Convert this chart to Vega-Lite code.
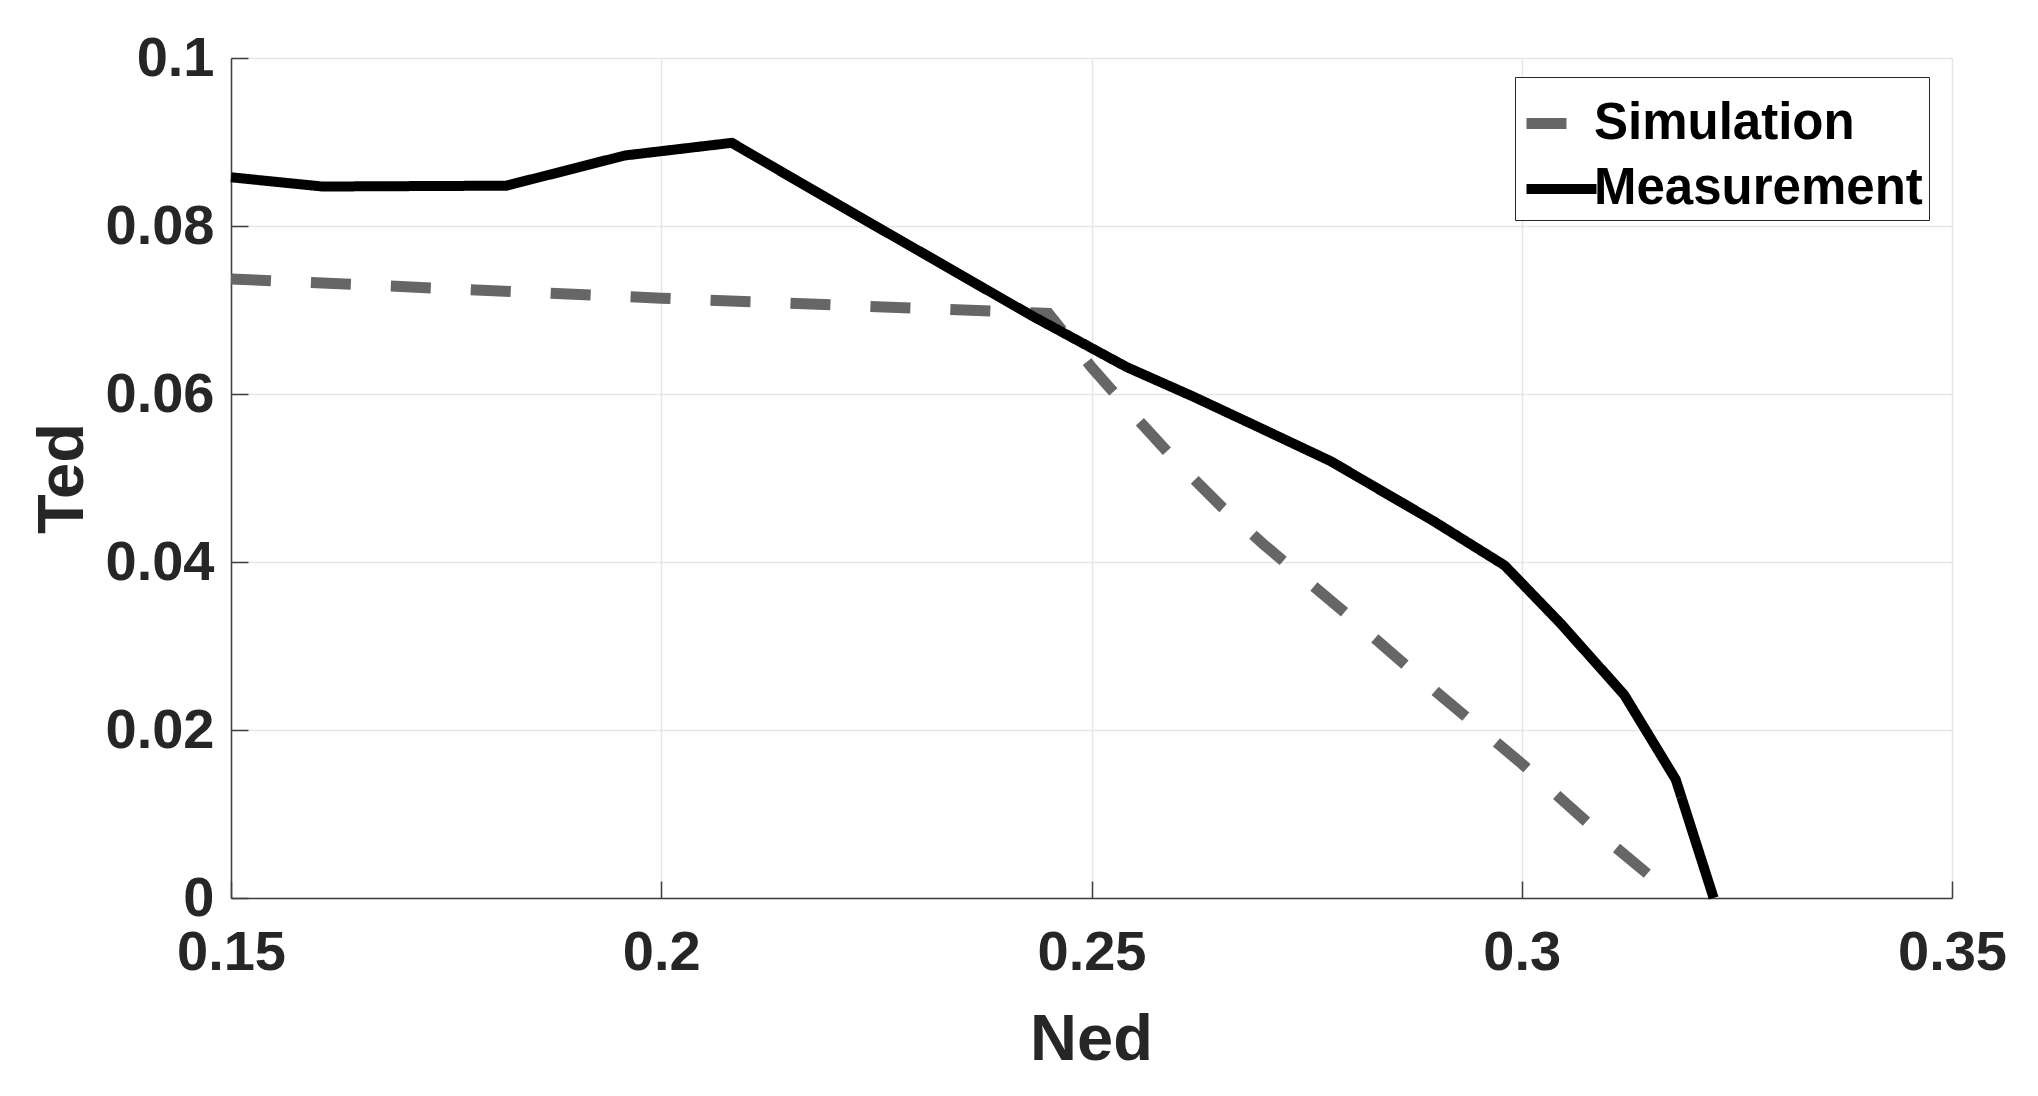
{
  "$schema": "https://vega.github.io/schema/vega-lite/v6.json",
  "width": 1721,
  "height": 840,
  "autosize": {"type": "none"},
  "padding": {"left": 231, "top": 58, "right": 86, "bottom": 198},
  "background": "white",
  "config": {
    "view": {"stroke": null},
    "font": "Liberation Sans",
    "axis": {
      "labelFont": "Liberation Sans",
      "labelFontSize": 56,
      "labelFontWeight": "bold",
      "labelColor": "#262626",
      "labelFlush": false,
      "titleFont": "Liberation Sans",
      "titleFontSize": 65,
      "titleFontWeight": "bold",
      "titleColor": "#262626",
      "domainColor": "#404040",
      "domainWidth": 1.5,
      "tickColor": "#404040",
      "tickWidth": 1.5,
      "tickSize": -17,
      "gridColor": "#e6e6e6",
      "gridWidth": 1.5
    }
  },
  "data": {
    "values": [
      {"series": "Simulation", "Ned": 0.15, "Ted": 0.0737},
      {"series": "Simulation", "Ned": 0.2, "Ted": 0.0714},
      {"series": "Simulation", "Ned": 0.245, "Ted": 0.0696},
      {"series": "Simulation", "Ned": 0.25, "Ted": 0.0632},
      {"series": "Simulation", "Ned": 0.255, "Ted": 0.0574},
      {"series": "Simulation", "Ned": 0.26, "Ted": 0.0518},
      {"series": "Simulation", "Ned": 0.265, "Ted": 0.0467},
      {"series": "Simulation", "Ned": 0.27, "Ted": 0.0421},
      {"series": "Simulation", "Ned": 0.28, "Ted": 0.0335},
      {"series": "Simulation", "Ned": 0.29, "Ted": 0.0246},
      {"series": "Simulation", "Ned": 0.3, "Ted": 0.016},
      {"series": "Simulation", "Ned": 0.31, "Ted": 0.0068},
      {"series": "Simulation", "Ned": 0.318, "Ted": 0.0},
      {"series": "Measurement", "Ned": 0.15, "Ted": 0.0858},
      {"series": "Measurement", "Ned": 0.1606, "Ted": 0.0847},
      {"series": "Measurement", "Ned": 0.182, "Ted": 0.0848},
      {"series": "Measurement", "Ned": 0.1958, "Ted": 0.0884},
      {"series": "Measurement", "Ned": 0.2082, "Ted": 0.0899},
      {"series": "Measurement", "Ned": 0.2198, "Ted": 0.083},
      {"series": "Measurement", "Ned": 0.2431, "Ted": 0.0693},
      {"series": "Measurement", "Ned": 0.2541, "Ted": 0.0632},
      {"series": "Measurement", "Ned": 0.2618, "Ted": 0.0597},
      {"series": "Measurement", "Ned": 0.2689, "Ted": 0.0563},
      {"series": "Measurement", "Ned": 0.2778, "Ted": 0.052},
      {"series": "Measurement", "Ned": 0.2897, "Ted": 0.0449},
      {"series": "Measurement", "Ned": 0.298, "Ted": 0.0396},
      {"series": "Measurement", "Ned": 0.3045, "Ted": 0.0327},
      {"series": "Measurement", "Ned": 0.3119, "Ted": 0.0242},
      {"series": "Measurement", "Ned": 0.3179, "Ted": 0.0141},
      {"series": "Measurement", "Ned": 0.3223, "Ted": 0.0}
    ]
  },
  "mark": {"type": "line", "strokeCap": "butt", "strokeJoin": "miter"},
  "encoding": {
    "x": {
      "field": "Ned",
      "type": "quantitative",
      "scale": {"domain": [0.15, 0.35], "nice": false, "zero": false},
      "axis": {
        "values": [0.15, 0.2, 0.25, 0.3, 0.35],
        "format": "~g",
        "title": "Ned",
        "labelPadding": 44,
        "titleX": 860,
        "titleY": 161,
        "titleBaseline": "alphabetic",
        "titleAnchor": "middle",
        "grid": true
      }
    },
    "y": {
      "field": "Ted",
      "type": "quantitative",
      "scale": {"domain": [0, 0.1], "nice": false},
      "axis": {
        "values": [0, 0.02, 0.04, 0.06, 0.08, 0.1],
        "format": "~g",
        "title": "Ted",
        "labelPadding": 34,
        "titleAngle": 270,
        "titleX": -149,
        "titleY": 420,
        "titleAlign": "center",
        "titleBaseline": "alphabetic",
        "grid": true
      }
    },
    "color": {
      "field": "series",
      "type": "nominal",
      "scale": {"domain": ["Simulation", "Measurement"], "range": ["#666666", "#000000"]},
      "legend": {
        "title": null,
        "orient": "none",
        "legendX": 1284,
        "legendY": 19,
        "labelFont": "Liberation Sans",
        "labelFontSize": 51,
        "labelFontWeight": "bold",
        "labelColor": "#000000",
        "labelLimit": 0,
        "labelOffset": -8,
        "symbolType": "stroke",
        "symbolSize": 4900,
        "symbolStrokeWidth": 11,
        "strokeColor": "#262626",
        "fillColor": "white",
        "padding": 6,
        "rowPadding": -8
      }
    },
    "strokeDash": {
      "field": "series",
      "type": "nominal",
      "scale": {"domain": ["Simulation", "Measurement"], "range": [[40, 40], [1, 0]]},
      "legend": {
        "title": null,
        "orient": "none",
        "legendX": 1284,
        "legendY": 19,
        "labelFont": "Liberation Sans",
        "labelFontSize": 51,
        "labelFontWeight": "bold",
        "labelColor": "#000000",
        "labelLimit": 0,
        "labelOffset": -8,
        "symbolType": "stroke",
        "symbolSize": 4900,
        "symbolStrokeWidth": 11,
        "strokeColor": "#262626",
        "fillColor": "white",
        "padding": 6,
        "rowPadding": -8
      }
    },
    "strokeWidth": {
      "field": "series",
      "type": "nominal",
      "scale": {"domain": ["Simulation", "Measurement"], "range": [11, 10]},
      "legend": null
    }
  }
}
